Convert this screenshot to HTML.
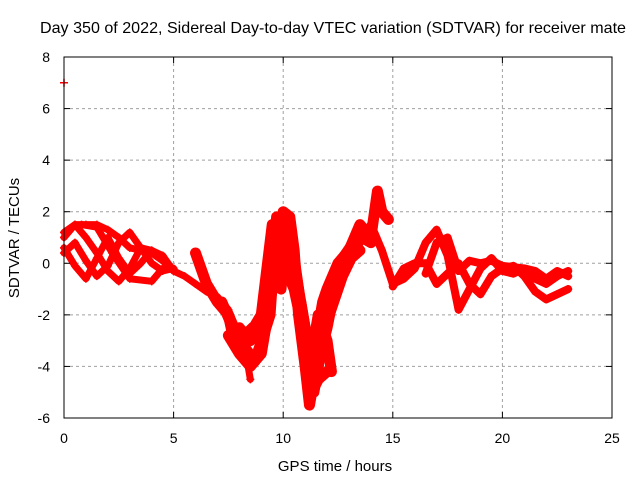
<!DOCTYPE html>
<html><head><meta charset="utf-8"><style>
body{margin:0;background:#fff}
svg{display:block;font-family:"Liberation Sans",sans-serif}
</style></head><body>
<svg width="640" height="480" id="c">
<text x="40" y="33" text-anchor="start" font-size="16" textLength="586" lengthAdjust="spacingAndGlyphs">Day 350 of 2022, Sidereal Day-to-day VTEC variation (SDTVAR) for receiver mate</text>
<text x="335" y="471" text-anchor="middle" font-size="15">GPS time / hours</text>
<text transform="translate(19,238) rotate(-90)" text-anchor="middle" font-size="15">SDTVAR / TECUs</text>
<g id="grid"></g><g id="marks"></g><g id="axes"></g>
</svg>
<script>
const xTicks=[0,5,10,15,20,25];
const yTicks=[-6,-4,-2,0,2,4,6,8];
const track1=[[0,1.0],[0.5,1.5],[1,1.5],[1.5,1.5],[2,1.3],[2.5,1.0],[3,0.6],[3.5,0.5],[4,0.4],[4.5,0.1],[5,-0.3],[5.5,-0.5],[6,-0.8],[6.5,-1.1],[7,-1.3],[7.5,-1.8],[8,-2.8],[8.3,-3.5],[8.5,-4.5]];
const track2=[[0,0.4],[0.5,0.8],[1,0.1],[1.5,-0.5],[2,-0.1],[2.5,0.8],[3,1.2],[3.5,0.6],[4,0.0],[4.5,-0.3],[5,-0.2]];
const track3=[[0,0.6],[0.5,-0.1],[1,-0.6],[1.5,0.2],[2,1.0],[2.5,0.2],[3,-0.4],[3.5,0.0],[4,0.5],[4.5,0.3],[5,-0.3]];
const track4=[[0,1.2],[0.5,1.5],[1,1.0],[1.5,0.4],[2,-0.3],[2.5,-0.7],[3,-0.2],[3.5,0.6],[4,0.5],[4.5,0.2]];
const track5=[[0.8,1.5],[1.5,1.4],[2.2,0.4],[3,-0.6],[4,-0.7],[4.5,-0.2],[5,-0.2]];
const track6=[[6,0.4],[6.5,-0.8],[7,-1.5],[7.5,-2.0],[7.8,-3.2],[8,-2.5],[8.5,-3.0],[9,-2.6],[9.3,-1.5],[9.5,0],[9.7,1.8],[9.9,0.5],[10,2.0],[10.3,1.8],[10.5,0.5],[10.7,-2],[11,-4],[11.2,-5.5],[11.4,-4.5],[11.6,-2.5],[11.8,-1.5],[12,-1],[12.5,0],[13,0.5],[13.5,1.5],[14,1.0],[14.3,2.8],[14.5,2.0],[14.8,1.7]];
const track7=[[7.5,-2.8],[8,-3.5],[8.5,-4.0],[9,-3.5],[9.5,-1],[10,0],[10.5,-1],[11,-3],[11.3,-5],[11.6,-4.5],[12,-4.2]];
const track8=[[8.3,-3.0],[9,-2.0],[9.5,1.5],[9.8,0],[10.2,1.5],[10.6,-0.5],[11,-2.5],[11.3,-3.5],[11.6,-2],[12,-3.0],[12.2,-4.2]];
const track9=[[11.5,-3],[12,-1.5],[12.5,-0.8],[13,0],[13.5,0.8],[14,1.5],[14.5,0.5],[15,-0.8],[15.5,-0.6],[16,-0.2],[16.5,0.8],[17,1.3],[17.5,0.3],[18,-1.8],[18.5,-1.0],[19,-0.2],[19.5,0.2],[20,-0.3],[20.5,-0.4],[21,-0.2],[21.5,-0.3],[22,-0.6],[22.5,-0.3],[23,-0.5]];
const track10=[[15,-0.9],[15.5,-0.2],[16,0.0],[16.5,0.0],[17,-0.8],[17.5,-0.4],[18,0],[18.5,-0.8],[19,-1.2],[19.5,-0.5],[20,-0.2],[20.5,-0.1],[21,-0.5],[21.5,-1.1],[22,-1.4],[22.5,-1.2],[23,-1.0]];
const track11=[[16.5,-0.4],[17,0.8],[17.5,1.0],[18,-0.3],[18.5,0.1],[19,0.0],[19.5,0.1],[20,-0.1],[21,-0.2],[21.5,-0.6],[22,-0.8],[22.5,-0.5],[23,-0.3]];
const track12=[[7.2,-1.5],[7.7,-2.5],[8.2,-3.2],[8.7,-3.8],[9.1,-2.8],[9.4,-2.0],[9.6,0.5],[9.9,-1.0],[10.1,0.8],[10.4,-0.5],[10.8,-1.5],[11.1,-3.0],[11.4,-5.0],[11.7,-3.5],[12,-2.5],[12.4,-0.8],[12.8,0.3],[13.2,0.8],[13.6,1.0],[14,0.8]];
const track13=[[8,-3.0],[8.6,-2.5],[9,-3.0],[9.4,-0.5],[9.7,0.5],[10,-0.5],[10.4,0.8],[10.7,-1.0],[11,-3.5],[11.3,-4.5],[11.6,-3.8],[11.9,-2.5],[12.3,-1.5],[12.7,-0.5],[13.1,0.2],[13.5,0.5]];
const outlier=[[0,7.0]];
const tracks=[track1,track2,track3,track4,track5,track6,track7,track8,track9,track10,track11,track12,track13,outlier];
const widths=[7,7,7,7,7,11,11,11,8,8,8,11,11,0];

const X0=64,X1=612,Y0=418,Y1=57;
const xs=t=>X0+t/25*(X1-X0);
const ys=v=>Y0-(v+6)/14*(Y0-Y1);
const NS="http://www.w3.org/2000/svg";
function mk(tag,attrs,parent){const e=document.createElementNS(NS,tag);for(const k in attrs)e.setAttribute(k,attrs[k]);parent.appendChild(e);return e;}
const grid=document.getElementById('grid'),marks=document.getElementById('marks'),axes=document.getElementById('axes');
xTicks.forEach(t=>{
  if(t>0&&t<25){const l=mk('line',{x1:xs(t),x2:xs(t),y1:Y1,y2:Y0,stroke:'#a0a0a0','stroke-dasharray':'3,3'},grid);
  
  }
  const tx=mk('text',{x:xs(t),y:Y0+25,'text-anchor':'middle','font-size':14},axes);tx.textContent=t;
  
  
  mk('line',{x1:xs(t),x2:xs(t),y1:Y0,y2:Y0-6,stroke:'#000'},axes);
  mk('line',{x1:xs(t),x2:xs(t),y1:Y1,y2:Y1+6,stroke:'#000'},axes);
});
yTicks.forEach(v=>{
  if(v>-6&&v<8){const l=mk('line',{x1:X0,x2:X1,y1:ys(v),y2:ys(v),stroke:'#a0a0a0','stroke-dasharray':'3,3'},grid);
  
  }
  const tx=mk('text',{x:X0-14,y:ys(v)+5,'text-anchor':'end','font-size':14},axes);tx.textContent=v;
  
  
  mk('line',{x1:X0,x2:X0+6,y1:ys(v),y2:ys(v),stroke:'#000'},axes);
  mk('line',{x1:X1,x2:X1-6,y1:ys(v),y2:ys(v),stroke:'#000'},axes);
});
const fr=mk('rect',{x:X0,y:Y1,width:X1-X0,height:Y0-Y1,fill:'none',stroke:'#000'},axes);


tracks.forEach((tr,i)=>{
  const g=mk('g',{},marks);
  
  
  if(tr.length>1){
    mk('polyline',{points:tr.map(p=>xs(p[0])+','+ys(p[1])).join(' '),fill:'none',stroke:'#ff0000','stroke-width':widths[i],'stroke-linejoin':'round','stroke-linecap':'round'},g);
  }
  tr.forEach(p=>{
    const x=xs(p[0]),y=ys(p[1]);
    const m=mk('path',{d:`M${x-4},${y}H${x+4}M${x},${y-4}V${y+4}`,stroke:'#ff0000','stroke-width':1.5},g);
    
    
  });
});
</script>
</body></html>
